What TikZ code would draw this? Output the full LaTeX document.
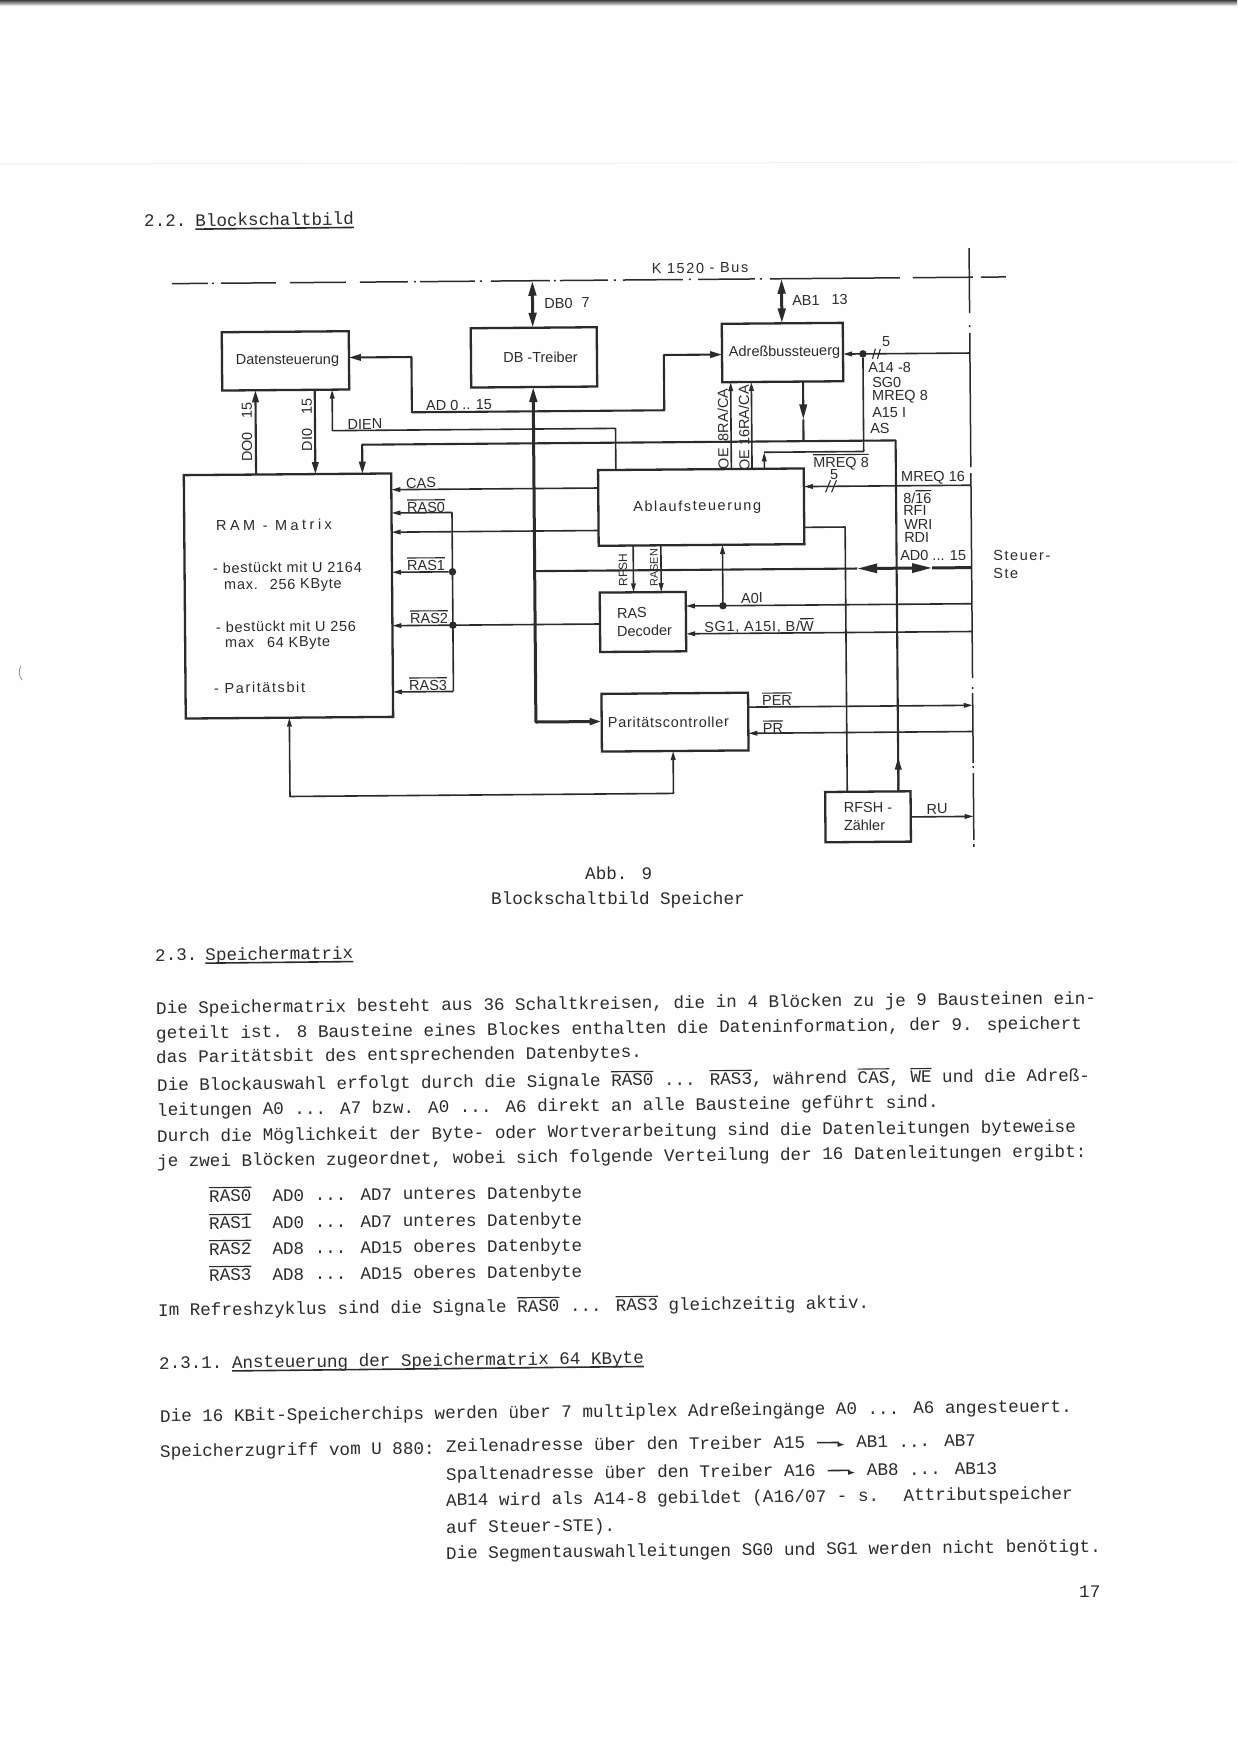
\documentclass[tikz,border=0pt]{standalone}
\usepackage{fontspec}
\setmainfont{Liberation Sans}
\newfontfamily\twf{Liberation Mono}
\newfontfamily\spf{Liberation Sans}[LetterSpace=11]
\newfontfamily\spg{Liberation Sans}[LetterSpace=5]
\newfontfamily\spk{Liberation Sans}[LetterSpace=24]
\newfontfamily\gyf{DejaVu Sans}
\usetikzlibrary{arrows.meta}
\definecolor{ink}{HTML}{2B2B2B}
\definecolor{paper}{HTML}{FEFEFE}
\newcommand\lbf{\fontsize{14.5}{18}\selectfont}
\newcommand\twsize{\fontsize{17.6}{20}\selectfont}
\newcommand\ovx[1]{\setbox0\hbox{#1}\rlap{\rule[\dimexpr\ht0+2pt\relax]{\wd0}{1.1pt}}\box0\relax}
\newcommand\ulx[1]{\setbox0\hbox{#1}\rlap{\rule[-3.5pt]{\wd0}{1.6pt}}\box0\relax}
\newcommand\typarrow{\makebox[30pt][c]{\rule[4.5pt]{22pt}{1.6pt}\kern-1.5pt{\gyf\fontsize{9}{9}\selectfont ►}}}
\tikzset{
  x=1pt,y=-1pt,
  box/.style={draw=ink,line width=2.3pt,inner sep=0pt,outer sep=0pt,text=ink,font=\lbf,align=left},
  wire/.style={draw=ink,line width=1.6pt,line join=round},
  midw/.style={draw=ink,line width=2.1pt,line join=round},
  busw/.style={draw=ink,line width=3pt,line join=round},
  scanline/.style={draw=ink,line width=1.5pt},
  dotn/.style={circle,fill=ink,inner sep=0pt,minimum size=7.5pt},
  lb/.style={font=\lbf,text=ink,inner sep=0pt,rotate=0.46},
  lbw/.style={lb,anchor=west},
  lbs/.style={font=\spf\lbf,text=ink,inner sep=0pt,rotate=0.46},
  lbv/.style={font=\lbf,text=ink,inner sep=0pt,rotate=90.46},
  tw/.style={anchor=base west,inner sep=0pt,rotate=0.62,text=ink,font=\twf\twsize},
  tinyt/.tip={Triangle[length=9pt,width=4.6pt]},
  midt/.tip={Triangle[length=12pt,width=6.5pt]},
  bigt/.tip={Triangle[length=15pt,width=7.5pt]},
  hugt/.tip={Triangle[length=20pt,width=9pt]},
}
\begin{document}
\begin{tikzpicture}
\useasboundingbox (0,0) rectangle (1237,1750);
\fill[paper] (0,0) rectangle (1237,1750);
\shade[top color=black!75,bottom color=white] (0,0) rectangle (1237,6);
\draw[black!6,line width=1pt] (0,164) -- (1237,162);
\draw[black!45,line width=0.8pt] (21,666) .. controls (18,671) and (19,676) .. (22,680);

\begin{scope}[transform canvas={rotate around={0.46:(600,550)}}]
% boxes
\node[box,minimum width=127pt,minimum height=58.3pt] (dat) at (287,358.35) {\hspace*{4pt}Datensteuerung};
\node[box,minimum width=126pt,minimum height=59.3pt] (dbt) at (535.5,356.85) {\hspace*{13pt}DB -Treiber};
\node[box,minimum width=121pt,minimum height=58.4pt] (adr) at (784.1,354) {\hspace*{4pt}Adreßbussteuerg};
\node[box,minimum width=207.4pt,minimum height=243.4pt] (ram) at (288.1,593.5) {};
\node[box,minimum width=205.7pt,minimum height=75.7pt,font=\spf\lbf] (abl) at (701.55,507.95) {Ablaufsteuerung\hspace*{8pt}};
\node[box,minimum width=86pt,minimum height=59.4pt] (dec) at (642.4,622.3) {\hspace*{3pt}RAS\\\hspace*{3pt}Decoder};
\node[box,minimum width=146.6pt,minimum height=57.7pt,font=\spg\lbf] (par) at (673.6,722.75) {Paritätscontroller\hspace*{13pt}};
\node[box,minimum width=85.4pt,minimum height=50.3pt] (rfs) at (865.9,818.95) {RFSH -\\Zähler};
% guides
\coordinate (vDB) at (534.5,0); \coordinate (vAB) at (783.7,0);
\coordinate (vDO) at (256.7,0); \coordinate (vDI) at (316,0);
\coordinate (vDN) at (333.4,0); \coordinate (vAD) at (413,0);
\coordinate (vTH) at (363,0);   \coordinate (vAR) at (665.4,0);
\coordinate (vDR) at (616.5,0); \coordinate (vO8) at (732,0);
\coordinate (vO16) at (752.7,0);\coordinate (vDW) at (804.4,0);
\coordinate (vMQ) at (864.5,0); \coordinate (vML) at (765,0);
\coordinate (vRF) at (896.5,0); \coordinate (vR) at (971.5,0);
\coordinate (vLF) at (845.3,0); \coordinate (vRA) at (452.3,0);
\coordinate (vRS) at (633.2,0); \coordinate (vRN) at (660.9,0);
\coordinate (vA0) at (722.5,0); \coordinate (vPU) at (671.5,0);
\coordinate (vRU) at (288,0);
\coordinate (hBus) at (0,280.2); \coordinate (hAD) at (0,410.8);
\coordinate (hIn) at (0,355.5);  \coordinate (hDN) at (0,428.5);
\coordinate (hTH) at (0,442.8);  \coordinate (hMQ) at (0,453.6);
\coordinate (hF1) at (0,356);    \coordinate (hF2) at (0,488.2);
\coordinate (hCS) at (0,488);    \coordinate (hR0) at (0,511.3);
\coordinate (hL2) at (0,530.5);  \coordinate (hOut) at (0,529);
\coordinate (hR1) at (0,570.6);  \coordinate (hR2) at (0,624);
\coordinate (hA0) at (0,606.7);  \coordinate (hSG) at (0,634.5);
\coordinate (hPE) at (0,708.3);  \coordinate (hPR) at (0,734.5);
\coordinate (hRU) at (0,819.4);  \coordinate (hRet) at (0,794);
\coordinate (hP) at (0,721.5);   \coordinate (hR3) at (0,690.3);
% dash-dot lines
\foreach \a/\b in {174/210,214/216,223/278,292/348,362/410,416/418,422/477,482/484,493/552,556/558,562/610,616/618,625/685,691/693,700/757,762/764,772/902,915/975,983/1008}
  \draw[scanline] (\a,280.2) -- (\b,280.2);
\foreach \a/\b in {251/316,328/330,336/470,476/681,690/692,696/766,769/771,776/843,847/850}
  \draw[scanline] (971.5,\a) -- (971.5,\b);
% bus connections
\draw[busw,{bigt}-{bigt}] (vDB |- hBus) -- (vDB |- dbt.north);
\draw[busw,{bigt}-{bigt}] (vAB |- hBus) -- (vAB |- adr.north);
% thick vertical with parity feed
\draw[busw,{bigt}-{midt}] (vDB |- dbt.south) -- (vDB |- hP) -- (par.west |- hP);
% AD0..15
\draw[midw,{midt}-{midt}] (dat.east |- hIn) -- (vAD |- hIn) -- (vAD |- hAD) -- (vAR |- hAD) -- (vAR |- hIn) -- (adr.west |- hIn);
% DIEN
\draw[wire,{tinyt}-] (vDN |- dat.south) -- (vDN |- hDN) -- (vDR |- hDN) -- (vDR |- abl.north);
% DO / DI
\draw[midw,-{midt}] (vDO |- ram.north) -- (vDO |- dat.south);
\draw[midw,-{midt}] (vDI |- dat.south) -- (vDI |- ram.north);
% third line
\draw[midw,{midt}-] (vTH |- ram.north) -- (vTH |- hTH) -- (vRF |- hTH) -- (vRF |- rfs.north);
\coordinate (tipRF) at (896.5,760);
\draw[midw,-{midt}] (vRF |- rfs.north) -- (tipRF);
% Adress down
\coordinate (tipDW) at (804.4,421);
\draw[midw,-{bigt}] (vDW |- adr.south) -- (tipDW);
\draw[midw] (tipDW) -- (vDW |- hTH);
% OE
\draw[wire,-{tinyt}] (vO8 |- abl.north) -- (vO8 |- adr.south);
\draw[wire,-{tinyt}] (vO16 |- abl.north) -- (vO16 |- adr.south);
% right lines from Adress
\node[dotn] (dotA) at (vMQ |- hF1) {};
\draw[wire,{tinyt}-] (adr.east |- hF1) -- (vR |- hF1);
\draw[wire] (dotA) -- (vMQ |- hMQ) -- (vML |- hMQ);
\draw[wire,-{tinyt}] (vML |- abl.north) -- (vML |- hMQ);
\coordinate (sl1) at (881,356);
\draw[wire,line width=1.1pt] ([shift={(-4,-5)}]sl1) -- ([shift={(-7,5)}]sl1);
\draw[wire,line width=1.1pt] ([shift={(1,-5)}]sl1) -- ([shift={(-2,5)}]sl1);
% right line to Ablauf
\draw[wire,{tinyt}-] (abl.east |- hF2) -- (vR |- hF2);
\coordinate (sl2) at (832,488.2);
\draw[wire,line width=1.1pt] ([shift={(-1,-6)}]sl2) -- ([shift={(-6,6)}]sl2);
\draw[wire,line width=1.1pt] ([shift={(5,-6)}]sl2) -- ([shift={(0,6)}]sl2);
% Ablauf out to RFSH
\draw[wire] (abl.east |- hOut) -- (vLF |- hOut) -- (vLF |- rfs.north);
% RAS / CAS
\draw[wire,-{tinyt}] (abl.west |- hCS) -- (ram.east |- hCS);
\draw[wire,-{tinyt}] (abl.west |- hL2) -- (ram.east |- hL2);
\draw[wire,-{tinyt}] (vRA |- hR0) -- (ram.east |- hR0);
\draw[wire] (vRA |- hR0) -- (vRA |- hR3);
\draw[wire,-{tinyt}] (vRA |- hR3) -- (ram.east |- hR3);
\node[dotn] (dotR1) at (vRA |- hR1) {};
\node[dotn] (dotR2) at (vRA |- hR2) {};
\draw[wire,-{tinyt}] (dotR1) -- (ram.east |- hR1);
\draw[wire,-{tinyt}] (dec.west |- hR2) -- (ram.east |- hR2);
% long AD bus with arrows
\coordinate (tL) at (857,570.6); \coordinate (tR) at (932,570.6);
\coordinate (tM) at (895,570.6);
\draw[midw] (vDB |- hR1) -- (tL);
\draw[busw,-{hugt}] (tM) -- (tL);
\draw[busw,-{hugt}] (tM) -- (tR);
\draw[busw] (tR) -- (vR |- hR1);
% RFSH RASEN
\draw[wire,-{tinyt}] (vRS |- abl.south) -- (vRS |- dec.north);
\draw[wire,-{tinyt}] (vRN |- abl.south) -- (vRN |- dec.north);
% A0I
\node[dotn] (dotA0) at (vA0 |- hA0) {};
\draw[wire,-{tinyt}] (dotA0) -- (vA0 |- abl.south);
\draw[wire,-{tinyt}] (vR |- hA0) -- (dec.east |- hA0);
\draw[wire,-{tinyt}] (vR |- hSG) -- (dec.east |- hSG);
% parity
\draw[wire,-{tinyt}] (par.east |- hPE) -- (vR |- hPE);
\draw[wire,-{tinyt}] (vR |- hPR) -- (par.east |- hPR);
\draw[wire,{tinyt}-{tinyt}] (vRU |- ram.south) -- (vRU |- hRet) -- (vPU |- hRet) -- (vPU |- par.south);
% RU
\draw[wire,-{tinyt}] (rfs.east |- hRU) -- (vR |- hRU);
\end{scope}

% diagram labels
\node[lbs] (tKB) at (700,268) {K 1520 - Bus};
\node[lb] (tDB) at (567,303) {DB0\hspace{9pt}7};
\node[lb] (tAB) at (820,300) {AB1\hspace{12pt}13};
\node[lb] (tAD) at (459,405) {AD 0 .. 15};
\node[lb] (tDN) at (365,424) {DIEN};
\node[lbv] (tDO) at (247,432) {DO0\hspace{14pt}15};
\node[lbv] (tDI) at (307,425) {DI0\hspace{14pt}15};
\node[lb] (tCAS) at (421,483) {CAS};
\node[lb] (tR0) at (426,506) {\ovx{RAS0}};
\node[lb] (tR1) at (426,564) {\ovx{RAS1}};
\node[lb] (tR2) at (429,617) {\ovx{RAS2}};
\node[lb] (tR3) at (428,684) {\ovx{RAS3}};
\node[lbs,font=\spk\lbf] (tRM) at (274,525) {RAM - Matrix};
\node[lbw,font=\spg\lbf] (tM1) at (213,568) {- bestückt mit U 2164};
\node[lbw,font=\spg\lbf] (tM2) at (224,586) {max.\hspace{12pt}256 KByte};
\node[lbw,font=\spg\lbf] (tM3) at (216,627) {- bestückt mit U 256};
\node[lbw,font=\spg\lbf] (tM4) at (225,644) {max\hspace{13pt}64 KByte};
\node[lbw,font=\spf\lbf] (tM5) at (214,688) {- Paritätsbit};
\node[lbv] (tO8) at (723,429) {OE\hspace{7pt}8RA/CA};
\node[lbv] (tO16) at (744,428) {OE 16RA/CA};
\node[lb] (t5a) at (886,342) {5};
\node[lb] (t5b) at (834,475) {5};
\node[lbw] (tA14) at (868,368) {A14 -8};
\node[lbw] (tSG0) at (872,383) {SG0};
\node[lbw] (tMQ8) at (872,397) {MREQ 8};
\node[lbw] (tA15) at (872,413) {A15 I};
\node[lbw] (tAS) at (870,429) {AS};
\node[lb] (tMQo) at (841,462) {\ovx{MREQ 8}};
\node[lbw] (tM16) at (901,478) {MREQ 16};
\node[lbw] (t816) at (903,497) {8/\ovx{16}};
\node[lbw] (tRFI) at (903,511) {RFI};
\node[lbw] (tWRI) at (904,525) {WRI};
\node[lbw] (tRDI) at (904,538) {RDI};
\node[lbw] (tADR) at (900,556) {AD0 ... 15};
\node[lbs,anchor=west] (tSt1) at (993,556) {Steuer-};
\node[lbs,anchor=west] (tSt2) at (993,574) {Ste};
\node[lbv,font=\fontsize{12}{14}\selectfont] (tRS) at (623,570) {RFSH};
\node[lbv,font=\fontsize{11}{13}\selectfont] (tRN) at (654,568) {RASEN};
\node[lb] (tA0) at (752,598) {A0I};
\node[lb,font=\spg\lbf] (tSG) at (759,626) {SG1, A15I, B/\ovx{W}};
\node[lb] (tPE) at (777,699) {\ovx{PER}};
\node[lb] (tPR) at (773,727) {\ovx{PR}};
\node[lb] (tRU) at (937,809) {RU};

% typed text
\node[tw] (p01) at (144,227) {2.2.\hspace{9pt}\ulx{Blockschaltbild}};
\node[tw,rotate=-0.62] (cap1) at (585,879) {Abb. 9};
\node[tw,rotate=-0.62] (cap2) at (491,904) {Blockschaltbild Speicher};
\node[tw] (p02) at (155,961) {2.3.\hspace{8pt}\ulx{Speichermatrix}};
\node[tw] (p03) at (156,1014) {Die Speichermatrix besteht aus 36 Schaltkreisen, die in 4 Blöcken zu je 9 Bausteinen ein-};
\node[tw] (p04) at (156,1039) {geteilt ist. 8 Bausteine eines Blockes enthalten die Dateninformation, der 9. speichert};
\node[tw] (p05) at (156,1063) {das Paritätsbit des entsprechenden Datenbytes.};
\node[tw] (p06) at (157,1091) {Die Blockauswahl erfolgt durch die Signale \ovx{RAS0} ... \ovx{RAS3}, während \ovx{CAS}, \ovx{WE} und die Adreß-};
\node[tw] (p07) at (157,1116) {leitungen A0 ... A7 bzw. A0 ... A6 direkt an alle Bausteine geführt sind.};
\node[tw] (p08) at (157,1142) {Durch die Möglichkeit der Byte- oder Wortverarbeitung sind die Datenleitungen byteweise};
\node[tw] (p09) at (157,1167) {je zwei Blöcken zugeordnet, wobei sich folgende Verteilung der 16 Datenleitungen ergibt:};
\node[tw] (p10) at (209,1202) {\ovx{RAS0}\hspace{21.1pt}AD0 ... AD7 unteres Datenbyte};
\node[tw] (p11) at (209,1229) {\ovx{RAS1}\hspace{21.1pt}AD0 ... AD7 unteres Datenbyte};
\node[tw] (p12) at (209,1255) {\ovx{RAS2}\hspace{21.1pt}AD8 ... AD15 oberes Datenbyte};
\node[tw] (p13) at (209,1281) {\ovx{RAS3}\hspace{21.1pt}AD8 ... AD15 oberes Datenbyte};
\node[tw] (p14) at (158,1316) {Im Refreshzyklus sind die Signale \ovx{RAS0} ... \ovx{RAS3} gleichzeitig aktiv.};
\node[tw] (p15) at (159,1369) {2.3.1.\hspace{9.5pt}\ulx{Ansteuerung der Speichermatrix 64 KByte}};
\node[tw] (p16) at (160,1422) {Die 16 KBit-Speicherchips werden über 7 multiplex Adreßeingänge A0 ... A6 angesteuert.};
\node[tw] (p17) at (160,1457) {Speicherzugriff vom U 880:};
\node[tw] (p18) at (446,1452) {Zeilenadresse über den Treiber A15 \typarrow{} AB1 ... AB7};
\node[tw] (p19) at (446,1480) {Spaltenadresse über den Treiber A16 \typarrow{} AB8 ... AB13};
\node[tw] (p20) at (446,1506) {AB14 wird als A14-8 gebildet (A16/07 - s.\hspace{10.5pt} Attributspeicher};
\node[tw] (p21) at (446,1533) {auf Steuer-STE).};
\node[tw] (p22) at (446,1559) {Die Segmentauswahlleitungen SG0 und SG1 werden nicht benötigt.};
\node[tw,rotate=-0.62] (p23) at (1079,1597) {17};
\end{tikzpicture}
\end{document}
